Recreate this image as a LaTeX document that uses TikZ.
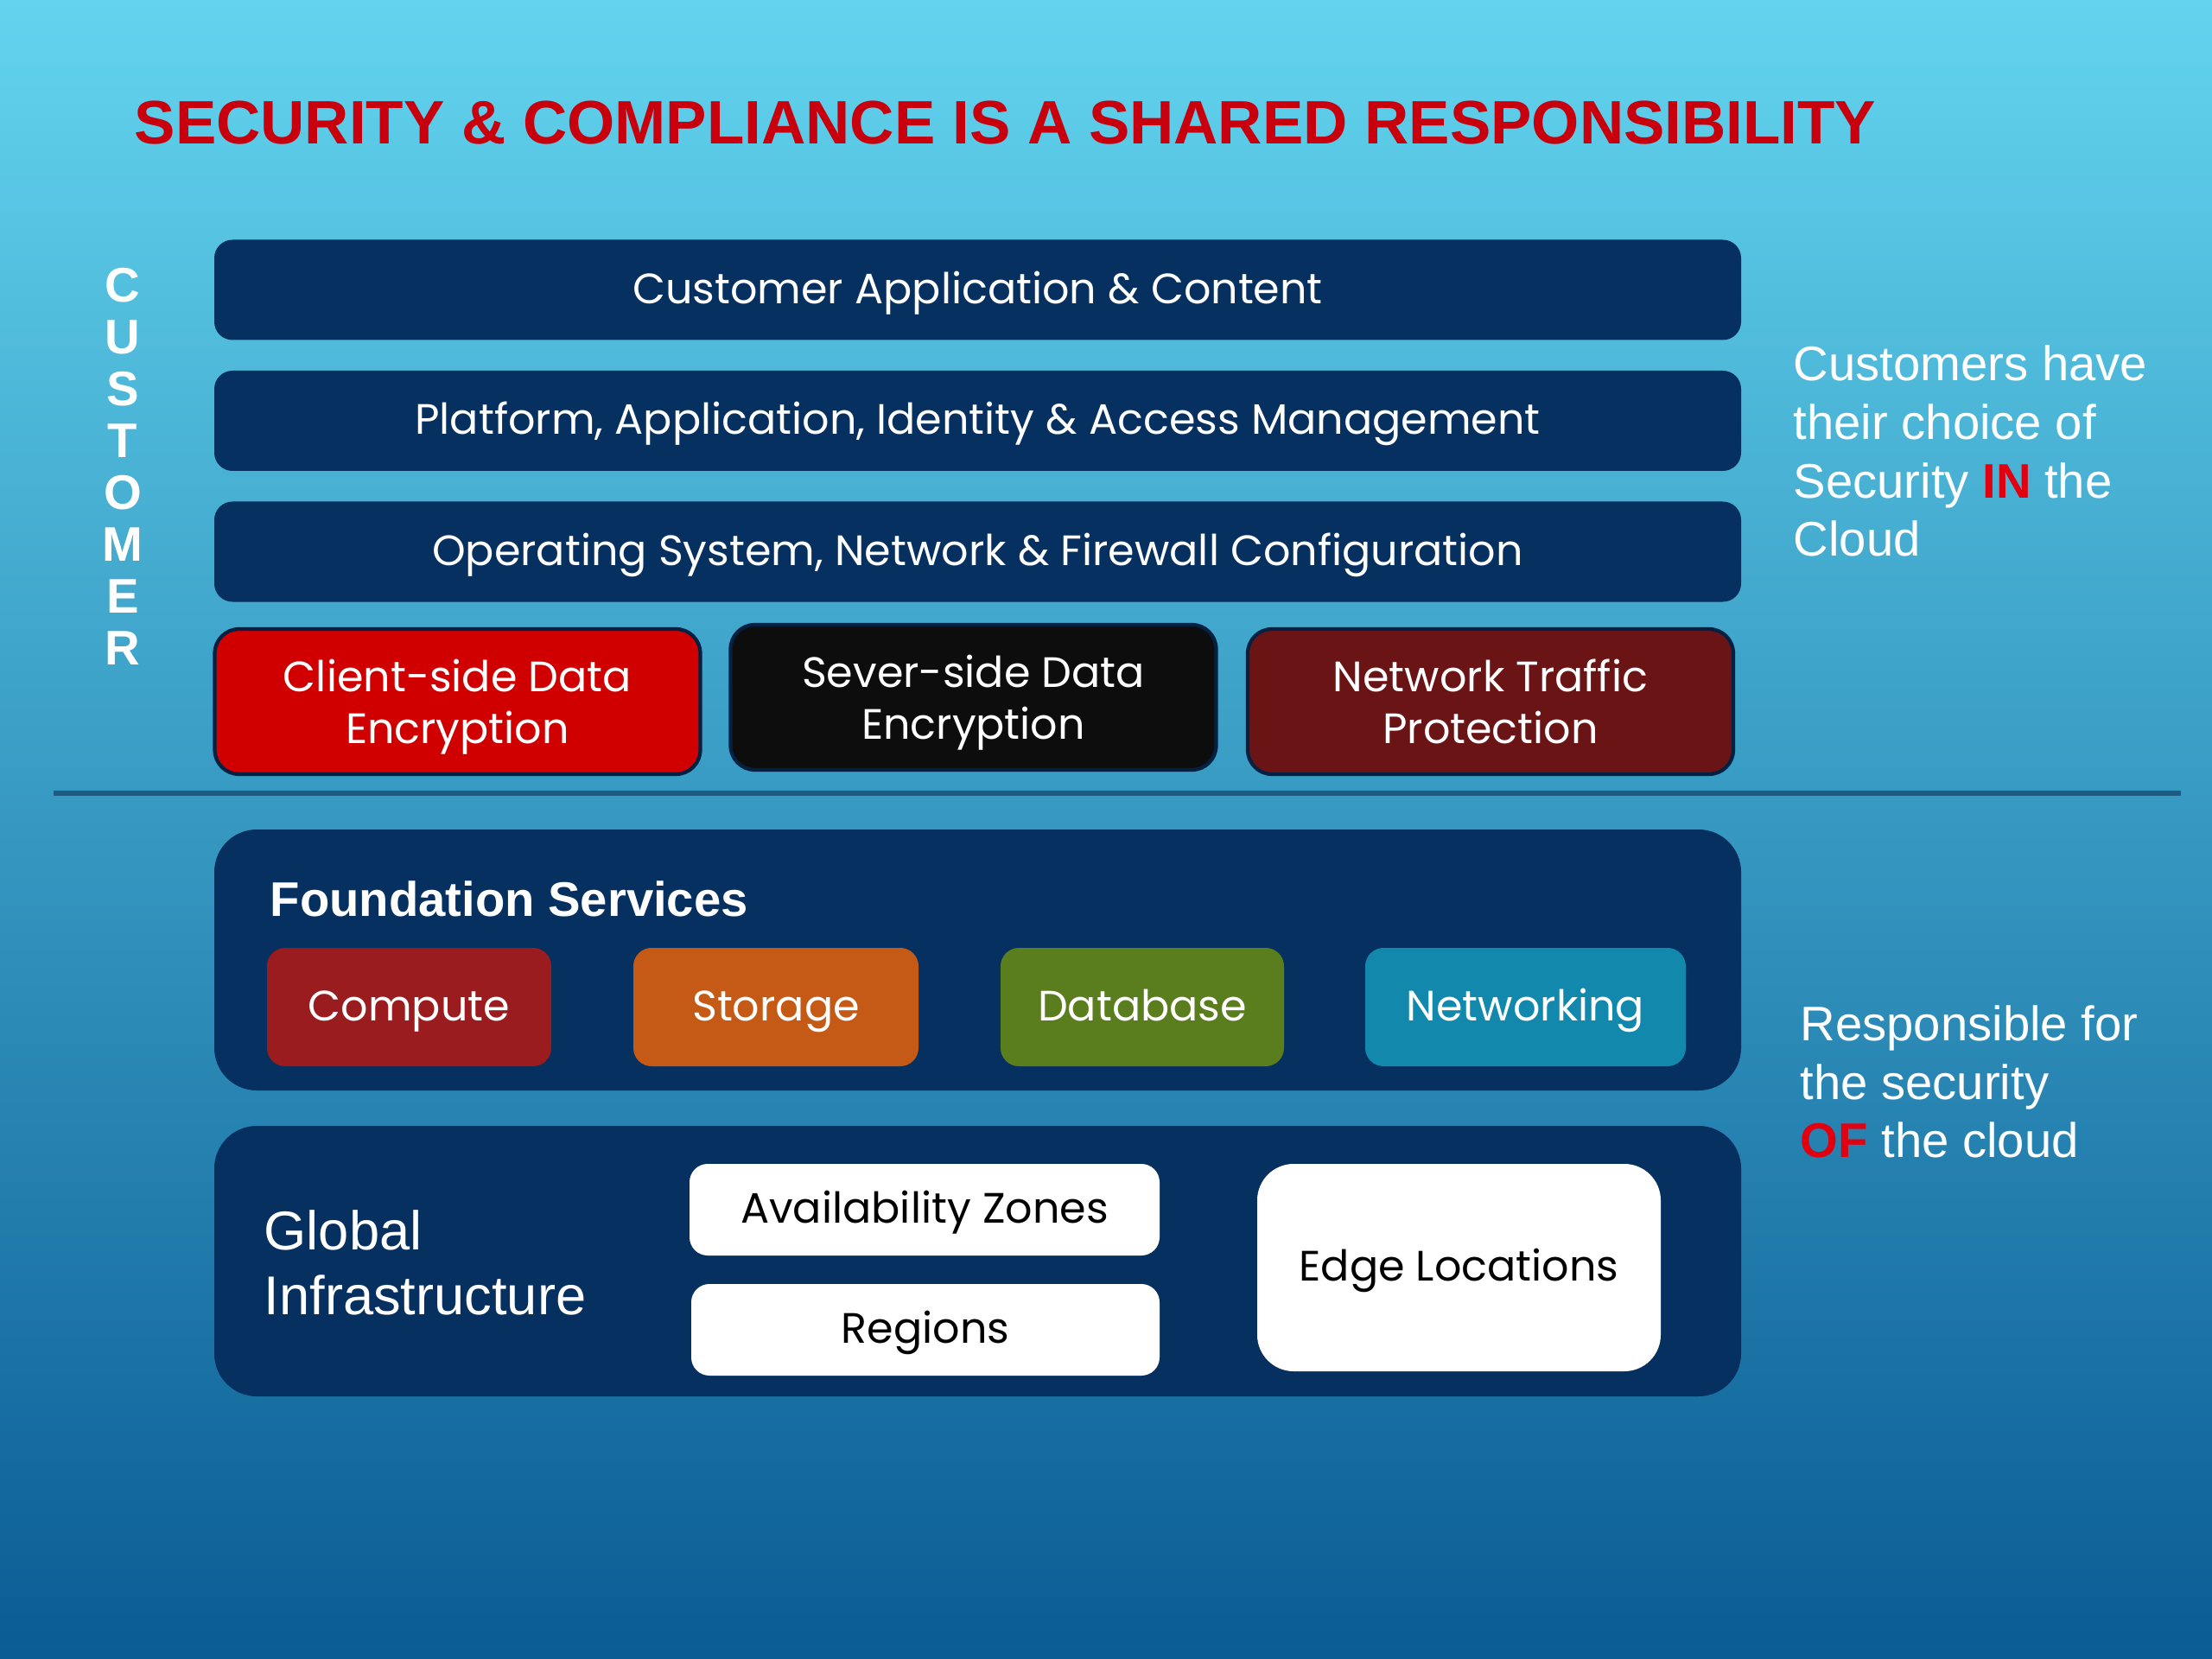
\documentclass[tikz,border=0pt]{standalone}
\usepackage{fontspec}
\setmainfont{Liberation Sans}
\newfontfamily\gothic{Poppins}
\usepackage{xcolor}
\definecolor{skytop}{HTML}{62D4EE}
\definecolor{skybot}{HTML}{0A5C94}
\definecolor{navy}{HTML}{05305F}
\definecolor{titlered}{HTML}{C8000E}
\definecolor{hotred}{HTML}{E0000F}
\definecolor{clientred}{HTML}{D00000}
\definecolor{serverblk}{HTML}{0D0D0D}
\definecolor{trafficred}{HTML}{6B1416}
\definecolor{computered}{HTML}{9A1C1F}
\definecolor{storageorg}{HTML}{C55A16}
\definecolor{dbgreen}{HTML}{5A7D1E}
\definecolor{netteal}{HTML}{1288AD}
\definecolor{sepline}{HTML}{1D5B83}
\usetikzlibrary{positioning, calc}

\begin{document}
\begin{tikzpicture}[
  oneline/.style={text height=1.1em, text depth=0.2em},
  layer/.style={rectangle, rounded corners=6pt, fill=navy, inner sep=0pt, oneline,
    minimum width=17.67cm, minimum height=1.16cm, text=white, font=\gothic\fontsize{14}{17}\selectfont},
  shield/.style={rectangle, rounded corners=8pt, draw=navy!70!black, line width=1.2pt, inner sep=0pt,
    minimum width=5.62cm, minimum height=1.68cm, align=center, text=white, text depth=0pt,
    font=\gothic\fontsize{14}{17}\selectfont},
  tier/.style={rectangle, rounded corners=14pt, fill=navy, inner sep=0pt, minimum width=17.67cm},
  service/.style={rectangle, rounded corners=6pt, inner sep=0pt, minimum height=1.37cm, oneline,
    text=white, font=\gothic\fontsize{14}{17}\selectfont},
  infra/.style={rectangle, rounded corners=6pt, fill=white, inner sep=0pt, oneline,
    text=black, font=\gothic\fontsize{14}{17}\selectfont},
  side/.style={anchor=west, align=left, inner sep=0pt, text=white, font=\fontsize{16}{19.3}\selectfont}
]
\useasboundingbox (0,0) rectangle (25.6,-19.2);
\shade[top color=skytop, bottom color=skybot] (0,0) rectangle (25.6,-19.2);

\node[anchor=west, inner sep=0pt, text=titlered, font=\bfseries\fontsize{20.2}{24}\selectfont] (title) at (1.55,-1.42)
  {SECURITY \& COMPLIANCE IS A SHARED RESPONSIBILITY};

% customer side
\node[align=center, text=white, font=\bfseries\fontsize{16}{17.1}\selectfont] (customer) at (1.42,-5.40)
  {C\\U\\S\\T\\O\\M\\E\\R};
\node[layer] (appcontent) at (11.315,-3.355) {Customer Application \& Content};
\node[layer] (platform) at (11.315,-4.87) {Platform, Application, Identity \& Access Management};
\node[layer] (osnet) at (11.315,-6.385) {Operating System, Network \& Firewall Configuration};
\node[shield, fill=clientred] (client) at (5.295,-8.12) {Client-side Data\\Encryption};
\node[shield, fill=serverblk] (server) at (11.265,-8.07) {Sever-side Data\\Encryption};
\node[shield, fill=trafficred] (traffic) at (17.25,-8.12) {Network Traffic\\Protection};

\node[side] (inthecloud) at (20.75,-5.22)
  {Customers have\\their choice of\\Security {\bfseries\color{hotred}IN} the\\Cloud};

% divider
\coordinate (sepL) at (0.62,-9.18);
\coordinate (sepR) at (25.24,-9.18);
\draw[sepline, line width=1.5pt] (sepL) -- (sepR);

% provider side
\node[tier, minimum height=3.02cm] (foundation) at (11.315,-11.11) {};
\node[anchor=west, inner sep=0pt, text=white, font=\bfseries\fontsize{16}{19}\selectfont] (fslabel) at (3.12,-10.40)
  {Foundation Services};
\node[service, fill=computered, minimum width=3.29cm] (compute) at (4.735,-11.655) {Compute};
\node[service, fill=storageorg, minimum width=3.30cm] (storage) at (8.98,-11.655) {Storage};
\node[service, fill=dbgreen, minimum width=3.28cm] (database) at (13.22,-11.655) {Database};
\node[service, fill=netteal, minimum width=3.71cm] (networking) at (17.655,-11.655) {Networking};

\node[tier, minimum height=3.13cm] (global) at (11.315,-14.595) {};
\node[anchor=west, align=left, inner sep=0pt, text=white, font=\fontsize{18}{21.3}\selectfont] (gilabel) at (3.05,-14.61)
  {Global\\Infrastructure};
\node[infra, minimum width=5.44cm, minimum height=1.06cm] (azones) at (10.70,-14.00) {Availability Zones};
\node[infra, minimum width=5.42cm, minimum height=1.06cm] (regions) at (10.71,-15.39) {Regions};
\node[infra, rounded corners=12pt, minimum width=4.67cm, minimum height=2.40cm] (edge) at (16.885,-14.67)
  {Edge Locations};

\node[side] (ofthecloud) at (20.83,-12.52)
  {Responsible for\\the security\\{\bfseries\color{hotred}OF} the cloud};
\end{tikzpicture}
\end{document}
